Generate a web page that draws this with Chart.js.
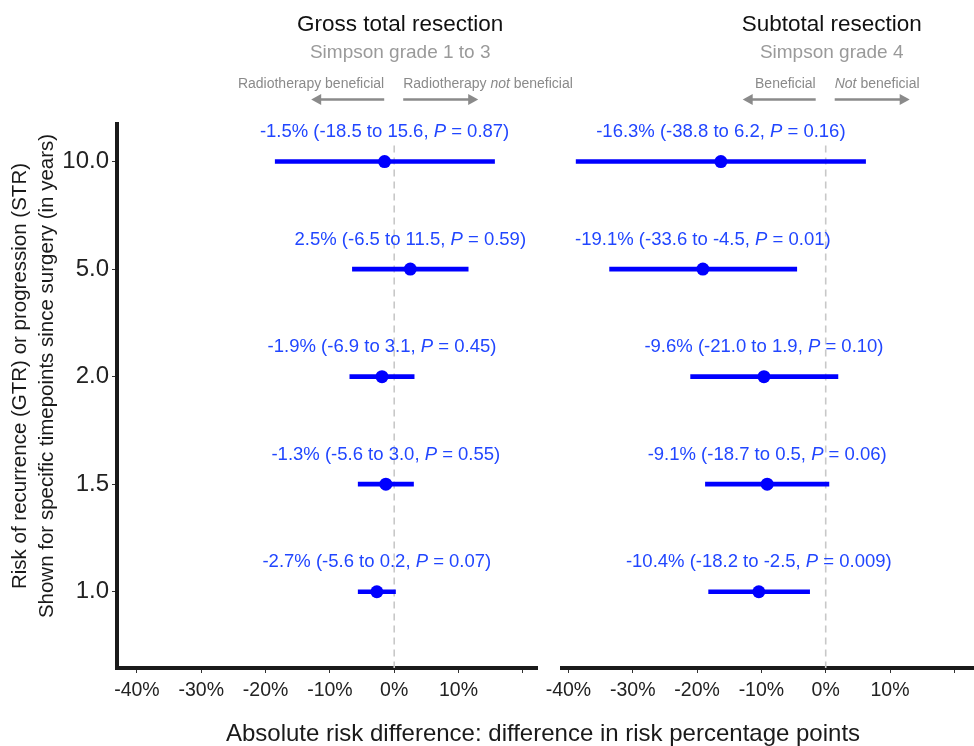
<!DOCTYPE html>
<html>
<head>
<meta charset="utf-8">
<title>Absolute risk difference by timepoint</title>
<script src="https://cdn.jsdelivr.net/npm/chart.js@4.4.1/dist/chart.umd.min.js"></script>
<style>
  html, body { margin: 0; padding: 0; background: #fff; overflow: hidden; }
  #wrap { position: relative; width: 974px; height: 746px; overflow: hidden; }
  #gtr { position: absolute; left: 0; top: 0; }
  #str { position: absolute; left: 537px; top: 0; }
  #xTitle {
    position: absolute; left: 543px; top: 721px; transform: translateX(-50%);
    font: 24px "Liberation Sans", Arial, sans-serif; line-height: 24px;
    color: #1a1a1a; white-space: nowrap;
  }
</style>
</head>
<body>
<div id="wrap">
  <canvas id="gtr" width="620" height="746" style="width:620px;height:746px"></canvas>
  <canvas id="str" width="453" height="746" style="width:453px;height:746px"></canvas>
  <div id="xTitle">Absolute risk difference: difference in risk percentage points</div>
</div>
<script>
const FONT = '"Liberation Sans", Arial, sans-serif';

// timepoints (years since surgery), top row first
const timepoints = ['10.0', '5.0', '2.0', '1.5', '1.0'];
const rowPos = [5, 4, 3, 2, 1];

// gross total resection (Simpson 1-3)
const gtrEstimate = [-1.5, 2.5, -1.9, -1.3, -2.7];
const gtrLower = [-18.5, -6.5, -6.9, -5.6, -5.6];
const gtrUpper = [15.6, 11.5, 3.1, 3.0, 0.2];
const gtrP = ['0.87', '0.59', '0.45', '0.55', '0.07'];

// subtotal resection (Simpson 4)
const strEstimate = [-16.3, -19.1, -9.6, -9.1, -10.4];
const strLower = [-38.8, -33.6, -21.0, -18.7, -18.2];
const strUpper = [6.2, -4.5, 1.9, 0.5, -2.5];
const strP = ['0.16', '0.01', '0.10', '0.06', '0.009'];

const xTicks = [-40, -30, -20, -10, 0, 10, 20];

// ------------------- drawing helpers -------------------
function richText(ctx, parts, x, y, align, size, color) {
    const fontFor = it => (it ? 'italic ' : '') + size + 'px ' + FONT;
    let total = 0;
    parts.forEach(pt => { ctx.font = fontFor(pt.i); total += ctx.measureText(pt.t).width; });
    let cx = align === 'center' ? x - total / 2 : align === 'right' ? x - total : x;
    ctx.fillStyle = color;
    ctx.textAlign = 'left';
    ctx.textBaseline = 'alphabetic';
    parts.forEach(pt => {
        ctx.font = fontFor(pt.i);
        ctx.fillText(pt.t, cx, y);
        cx += ctx.measureText(pt.t).width;
    });
}

function arrow(ctx, x0, x1, y) {
    const dir = Math.sign(x1 - x0);
    ctx.beginPath();
    ctx.moveTo(x0, y);
    ctx.lineTo(x1 - dir * 8, y);
    ctx.stroke();
    ctx.beginPath();
    ctx.moveTo(x1, y);
    ctx.lineTo(x1 - dir * 10, y - 5.5);
    ctx.lineTo(x1 - dir * 10, y + 5.5);
    ctx.closePath();
    ctx.fill();
}

const fmt = v => v.toFixed(1);

const forestDecor = {
    id: 'forestDecor',
    beforeDatasetsDraw(chart, args, o) {
        const { ctx, chartArea, scales: { x, y } } = chart;
        const zx = x.getPixelForValue(0);
        ctx.save();
        ctx.strokeStyle = '#c8c8c8';
        ctx.lineWidth = 1.6;
        ctx.setLineDash([7, 5]);
        ctx.beginPath();
        ctx.moveTo(zx, y.getPixelForValue(5.15));
        ctx.lineTo(zx, chartArea.bottom);
        ctx.stroke();
        ctx.restore();
    },
    afterDatasetsDraw(chart, args, o) {
        const { ctx, scales: { x, y } } = chart;
        ctx.save();
        rowPos.forEach((v, i) => {
            const parts = [
                { t: fmt(o.est[i]) + '% (' + fmt(o.lo[i]) + ' to ' + fmt(o.hi[i]) + ', ' },
                { t: 'P', i: true },
                { t: ' = ' + o.p[i] + ')' }
            ];
            richText(ctx, parts, x.getPixelForValue(o.est[i]), y.getPixelForValue(v) - 24.5, 'center', 18.5, '#2146ff');
        });
        ctx.restore();
    },
    afterDraw(chart, args, o) {
        const { ctx, scales: { x } } = chart;
        const zx = x.getPixelForValue(0);
        ctx.save();
        richText(ctx, [{ t: o.title }], zx + 6, 31, 'center', 22.5, '#111');
        richText(ctx, [{ t: o.subtitle }], zx + 6, 58, 'center', 19, '#9a9a9a');
        richText(ctx, o.leftText, zx - 10, 88, 'right', 14, '#8a8a8a');
        richText(ctx, o.rightText, zx + 9, 88, 'left', 14, '#8a8a8a');
        ctx.strokeStyle = '#8a8a8a';
        ctx.fillStyle = '#8a8a8a';
        ctx.lineWidth = 2.6;
        arrow(ctx, zx - 10, zx - 83, 99.5);
        arrow(ctx, zx + 9, zx + 84, 99.5);

        if (o.yTitle) {
            ctx.fillStyle = '#1a1a1a';
            ctx.font = '20.5px ' + FONT;
            ctx.textAlign = 'center';
            ctx.textBaseline = 'alphabetic';
            o.yTitle.forEach((line, k) => {
                ctx.save();
                ctx.translate(26 + k * 26.5, 376);
                ctx.rotate(-Math.PI / 2);
                ctx.fillText(line, 0, 0);
                ctx.restore();
            });
        }
        ctx.restore();
    }
};

// ------------------- panel builder -------------------
function panel(id, d) {
    const axisBorder = { display: true, width: 4, color: '#1a1a1a' };
    const tickGrid = { drawOnChartArea: false, drawTicks: true, tickLength: 5, color: '#333', lineWidth: 1, offset: false };
    return new Chart(document.getElementById(id), {
        data: {
            datasets: [
                {
                    type: 'bar',
                    indexAxis: 'y',
                    data: rowPos.map((v, i) => ({ x: [d.lo[i], d.hi[i]], y: v })),
                    backgroundColor: '#0000ff',
                    barThickness: 4,
                    grouped: false,
                    borderWidth: 0
                },
                {
                    type: 'scatter',
                    data: rowPos.map((v, i) => ({ x: d.est[i], y: v })),
                    pointRadius: 6.5,
                    pointBackgroundColor: '#0000ff',
                    pointBorderWidth: 0
                }
            ]
        },
        options: {
            responsive: false,
            animation: false,
            layout: { padding: { top: 124, left: d.padLeft, right: d.padRight, bottom: 0 } },
            font: { family: FONT },
            plugins: {
                legend: { display: false },
                tooltip: { enabled: false },
                forestDecor: d.decor
            },
            scales: {
                x: {
                    type: 'linear',
                    min: d.xMin,
                    max: d.xMax,
                    offset: false,
                    afterBuildTicks: s => { s.ticks = xTicks.map(v => ({ value: v })); },
                    afterFit: s => { s.height = 78; },
                    ticks: {
                        callback: v => (v >= 20 ? '' : v + '%'),
                        font: { family: FONT, size: 19.5 },
                        color: '#222',
                        padding: 6,
                        maxRotation: 0,
                        autoSkip: false
                    },
                    grid: tickGrid,
                    border: axisBorder
                },
                y: {
                    type: 'linear',
                    min: 0.291,
                    max: 5.349,
                    offset: false,
                    display: d.showY,
                    afterBuildTicks: s => { s.ticks = rowPos.map(v => ({ value: v })); },
                    afterFit: s => { if (d.showY) s.width = 117; },
                    ticks: {
                        callback: v => timepoints[rowPos.indexOf(v)],
                        font: { family: FONT, size: 24 },
                        color: '#222',
                        padding: 3
                    },
                    grid: tickGrid,
                    border: axisBorder
                }
            }
        },
        plugins: [forestDecor]
    });
}

panel('gtr', {
    lo: gtrLower, hi: gtrUpper, est: gtrEstimate,
    xMin: -43.1, xMax: 22.2, padLeft: 0, padRight: 83, showY: true,
    decor: {
        est: gtrEstimate, lo: gtrLower, hi: gtrUpper, p: gtrP,
        title: 'Gross total resection',
        subtitle: 'Simpson grade 1 to 3',
        leftText: [{ t: 'Radiotherapy beneficial' }],
        rightText: [{ t: 'Radiotherapy ' }, { t: 'not', i: true }, { t: ' beneficial' }],
        yTitle: [
            'Risk of recurrence (GTR) or progression (STR)',
            'Shown for specific timepoints since surgery (in years)'
        ]
    }
});

panel('str', {
    lo: strLower, hi: strUpper, est: strEstimate,
    xMin: -41.0, xMax: 24.3, padLeft: 25, padRight: 8, showY: false,
    decor: {
        est: strEstimate, lo: strLower, hi: strUpper, p: strP,
        title: 'Subtotal resection',
        subtitle: 'Simpson grade 4',
        leftText: [{ t: 'Beneficial' }],
        rightText: [{ t: 'Not', i: true }, { t: ' beneficial' }]
    }
});
</script>
</body>
</html>
